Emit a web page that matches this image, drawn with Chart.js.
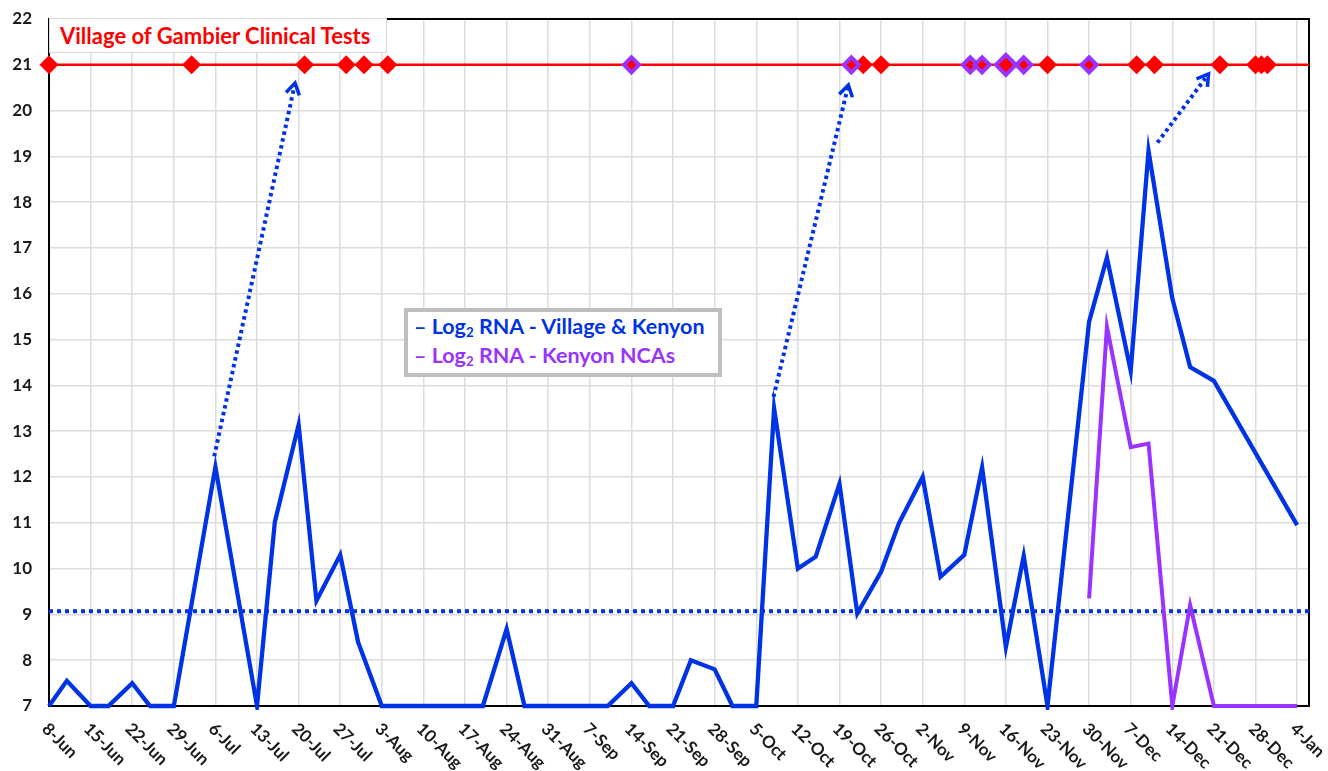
<!DOCTYPE html>
<html>
<head>
<meta charset="utf-8">
<title>Gambier RNA</title>
<script src="https://cdn.jsdelivr.net/npm/chart.js@4.4.1/dist/chart.umd.min.js"></script>
<style>
  body { margin: 0; background: #fff; }
  #wrap { position: relative; width: 1328px; height: 771px; }
  #titleBox {
    position: absolute; left: 49px; top: 18px; width: 338px; height: 35px;
    box-sizing: border-box; border: 1px solid #d9d9d9; background: #fff;
    color: #ff0000; font: bold 22px Lato; line-height: 24px;
    padding: 5px 0 0 10px; white-space: nowrap;
  }
  #legendBox {
    position: absolute; left: 404px; top: 308px; width: 318px; height: 69px;
    box-sizing: border-box; border: 4px solid #bfbfbf; background: #fff;
    font: bold 21.5px Lato; line-height: 28.7px; padding: 0 0 0 6px; white-space: nowrap;
  }
  #legendBox sub { font-size: 0.62em; vertical-align: -0.25em; line-height: 0; }
</style>
</head>
<body>
<div id="wrap">
  <canvas id="chart" width="1328" height="771"></canvas>
  <div id="titleBox">Village of Gambier Clinical Tests</div>
  <div id="legendBox">
    <div style="color:#0033e6">&ndash; Log<sub>2</sub> RNA - Village &amp; Kenyon</div>
    <div style="color:#9933ff">&ndash; Log<sub>2</sub> RNA - Kenyon NCAs</div>
  </div>
</div>
<script>
// x values are days after 8-Jun
const tickDays = [0, 7, 14, 21, 28, 35, 42, 49, 56, 63, 70, 77, 84, 91, 98, 105, 112, 119, 126, 133, 140, 147, 154, 161, 168, 175, 182, 189, 196, 203, 210];
const tickLabels = ['8-Jun', '15-Jun', '22-Jun', '29-Jun', '6-Jul', '13-Jul', '20-Jul', '27-Jul', '3-Aug', '10-Aug', '17-Aug', '24-Aug', '31-Aug', '7-Sep', '14-Sep', '21-Sep', '28-Sep', '5-Oct', '12-Oct', '19-Oct', '26-Oct', '2-Nov', '9-Nov', '16-Nov', '23-Nov', '30-Nov', '7-Dec', '14-Dec', '21-Dec', '28-Dec', '4-Jan'];

const villageDays = [0, 3, 7, 10, 14, 17, 21, 28, 35, 38, 42, 45, 49, 52, 56, 59, 63, 66, 70, 73, 77, 80, 84, 87, 91, 94, 98, 101, 105, 108, 112, 115, 119, 122, 126, 129, 133, 136, 140, 143, 147, 150, 154, 157, 161, 164, 168, 175, 178, 182, 185, 189, 192, 196, 210];
const villageRna = [7, 7.55, 7, 7, 7.5, 7, 7, 12.22, 7, 11.02, 13.14, 9.3, 10.3, 8.4, 7, 7, 7, 7, 7, 7, 8.68, 7, 7, 7, 7, 7, 7.5, 7, 7, 8.0, 7.8, 7, 7, 13.5, 10.0, 10.26, 11.85, 9.02, 9.93, 10.99, 12.0, 9.82, 10.3, 12.21, 8.29, 10.28, 7, 15.39, 16.79, 14.32, 19.12, 15.9, 14.4, 14.1, 10.95];

const ncaDays = [175, 178, 182, 185, 189, 192, 196, 199, 203, 206, 210];
const ncaRna = [9.35, 15.28, 12.65, 12.73, 7, 9.2, 7, 7, 7, 7, 7];

const thresholdRna = 9.07;
const testLevel = 21;
const villageTestDays = [0, 24, 43, 50, 53, 57, 137, 140, 168, 183, 186, 197, 203, 204, 205];
const kenyonTestDays = [98, 135, 155, 157, 161, 164, 175];
const kenyonTestSize = [7.5, 7.5, 7.5, 7.5, 10, 7.5, 7.5];

// dotted arrows: start and tip as [day, log2 RNA]
const arrowStart = [[27.8, 12.45], [121.9, 13.75], [186.5, 19.3]];
const arrowTip = [[41.4, 20.6], [134.5, 20.56], [195.1, 20.8]];

const BLUE = '#0033e6';
const PURPLE = '#9933ff';
const RED = '#ff0000';

const pts = (xs, ys) => xs.map((x, i) => ({ x: x, y: Array.isArray(ys) ? ys[i] : ys }));

const arrowSets = arrowStart.map((s, i) => ({
  data: [{ x: s[0], y: s[1] }, { x: arrowTip[i][0], y: arrowTip[i][1] }],
  borderColor: BLUE, borderWidth: 4, borderDash: [3.5, 3.5], pointRadius: 0, order: 4
}));

const framePlugin = {
  id: 'frame',
  beforeDatasetsDraw(chart) {
    const { ctx, chartArea: a } = chart;
    ctx.save();
    ctx.strokeStyle = '#000';
    ctx.lineWidth = 2;
    ctx.strokeRect(a.left, a.top, a.right - a.left, a.bottom - a.top);
    ctx.restore();
  }
};

const arrowHeads = {
  id: 'arrowHeads',
  afterDatasetsDraw(chart) {
    const { ctx, scales: { x, y } } = chart;
    ctx.save();
    ctx.strokeStyle = BLUE;
    ctx.lineWidth = 3.5;
    ctx.lineJoin = 'miter';
    arrowTip.forEach((t, i) => {
      const x1 = x.getPixelForValue(arrowStart[i][0]), y1 = y.getPixelForValue(arrowStart[i][1]);
      const x2 = x.getPixelForValue(t[0]), y2 = y.getPixelForValue(t[1]);
      const ang = Math.atan2(y2 - y1, x2 - x1);
      const len = 13, spread = 0.55;
      ctx.beginPath();
      ctx.moveTo(x2 - len * Math.cos(ang - spread), y2 - len * Math.sin(ang - spread));
      ctx.lineTo(x2, y2);
      ctx.lineTo(x2 - len * Math.cos(ang + spread), y2 - len * Math.sin(ang + spread));
      ctx.stroke();
    });
    ctx.restore();
  }
};

const xLabels = {
  id: 'xLabels',
  afterDraw(chart) {
    const { ctx, chartArea, scales: { x } } = chart;
    ctx.save();
    ctx.fillStyle = '#1a1a1a';
    ctx.font = 'bold 17px Lato';
    ctx.textAlign = 'left';
    ctx.textBaseline = 'middle';
    tickDays.forEach((d, i) => {
      ctx.save();
      ctx.translate(x.getPixelForValue(d) - 4, chartArea.bottom + 20);
      ctx.rotate(Math.PI / 4);
      ctx.fillText(tickLabels[i], 0, 0);
      ctx.restore();
    });
    ctx.restore();
  }
};

new Chart(document.getElementById('chart'), {
  type: 'line',
  data: {
    datasets: [
      {
        data: pts(kenyonTestDays, testLevel), showLine: false, pointStyle: 'rectRot',
        pointRadius: kenyonTestSize, pointBackgroundColor: RED, pointBorderColor: PURPLE,
        pointBorderWidth: 4, clip: false, order: 0
      },
      {
        data: pts(villageTestDays, testLevel), showLine: false, pointStyle: 'rectRot',
        pointRadius: 9.5, pointBackgroundColor: RED, pointBorderWidth: 0, clip: false, order: 1
      },
      {
        data: [{ x: 0, y: testLevel }, { x: 212, y: testLevel }],
        borderColor: RED, borderWidth: 2.5, pointRadius: 0, order: 2
      },
      ...arrowSets,
      {
        data: pts(ncaDays, ncaRna), borderColor: PURPLE, borderWidth: 4,
        pointRadius: 0, clip: 4, order: 5
      },
      {
        data: pts(villageDays, villageRna), borderColor: BLUE, borderWidth: 4.3,
        pointRadius: 0, clip: 4, order: 6
      },
      {
        data: [{ x: 0, y: thresholdRna }, { x: 212, y: thresholdRna }],
        borderColor: BLUE, borderWidth: 4, borderDash: [4, 4], pointRadius: 0, order: 7
      }
    ]
  },
  options: {
    responsive: false,
    animation: false,
    layout: { padding: { top: 19, right: 19, left: 0, bottom: 0 } },
    plugins: { legend: { display: false }, tooltip: { enabled: false } },
    scales: {
      x: {
        type: 'linear', min: 0, max: 212,
        afterBuildTicks: s => { s.ticks = tickDays.map(v => ({ value: v })); },
        afterFit: s => { s.height = 65; s.paddingLeft = 0; s.paddingRight = 0; },
        ticks: { display: false },
        grid: { color: '#dcdcdc', lineWidth: 1.5, drawTicks: false },
        border: { display: false }
      },
      y: {
        min: 7, max: 22,
        afterFit: s => { s.width = 49; s.paddingTop = 0; s.paddingBottom = 0; },
        ticks: { stepSize: 1, padding: 17, color: '#1a1a1a', font: { family: 'Lato', size: 17, weight: 'bold' } },
        grid: { color: '#dcdcdc', lineWidth: 1.5, drawTicks: false },
        border: { display: false }
      }
    }
  },
  plugins: [framePlugin, arrowHeads, xLabels]
});
</script>
</body>
</html>
